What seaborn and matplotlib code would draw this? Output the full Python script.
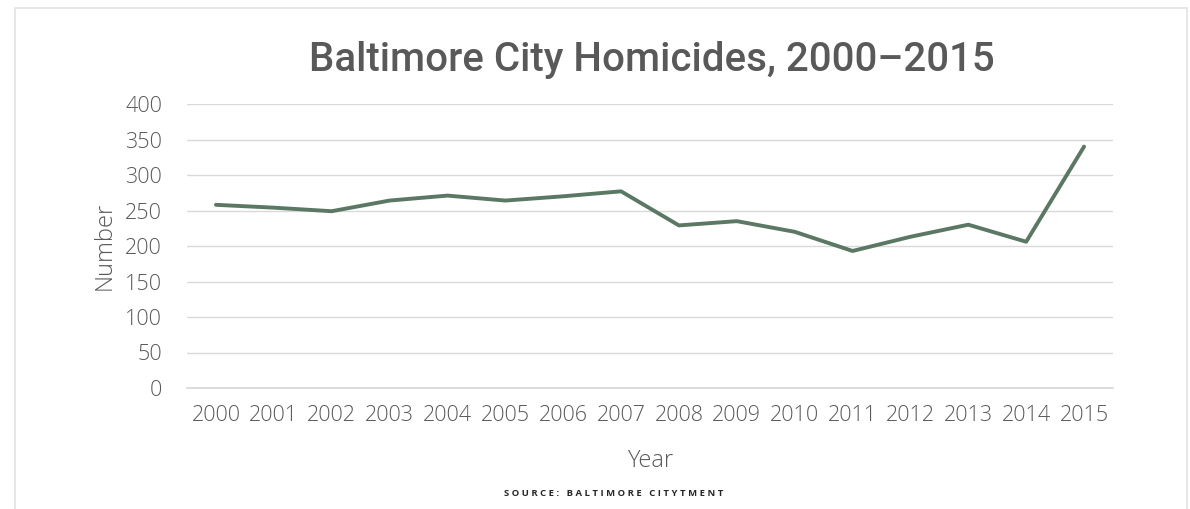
import matplotlib
matplotlib.use("Agg")
import matplotlib.pyplot as plt
import matplotlib.patches as mpatches
import pandas as pd
import seaborn as sns

years = [str(y) for y in range(2000, 2016)]
homicides = [258, 254, 249, 264, 271, 264, 270, 277, 229, 235, 220, 193, 213, 230, 206, 340]
y_ticks = [0, 50, 100, 150, 200, 250, 300, 350, 400]

LINE = "#5b7864"
TEXT = "#595959"
GRID = "#d9d9d9"

sns.set_theme(style="white")
plt.rcParams["font.family"] = ["Open Sans", "DejaVu Sans"]

df = pd.DataFrame({"Year": years, "Number": homicides})

fig = plt.figure(figsize=(11.9, 5.09), dpi=100)
fig.patches.append(mpatches.Rectangle((15 / 1190, -0.01), 1172 / 1190, 1 - 8 / 509 + 0.01,
                                      transform=fig.transFigure, fill=False,
                                      edgecolor="#e3e3e3", linewidth=1.2))
ax = fig.add_axes([187 / 1190, 1 - 388 / 509, 926 / 1190, 284 / 509])

sns.lineplot(data=df, x="Year", y="Number", color=LINE, linewidth=2.8, ax=ax, sort=False)

ax.set_xlim(-0.5, len(years) - 0.5)
ax.set_ylim(0, 400)
ax.set_yticks(y_ticks)
ax.yaxis.grid(True, color=GRID, linewidth=1)
ax.set_axisbelow(True)
for s in ["top", "right", "left"]:
    ax.spines[s].set_visible(False)
ax.spines["bottom"].set_color(GRID)
ax.tick_params(axis="both", length=0, labelsize=15.5, colors=TEXT)
for lbl in ax.get_xticklabels() + ax.get_yticklabels():
    lbl.set_fontweight("light")
ax.tick_params(axis="x", pad=12)
ax.tick_params(axis="y", pad=18)

ax.set_xlabel("Year", fontsize=17, color=TEXT, labelpad=17, fontweight="light")
ax.set_ylabel("Number", fontsize=17, color=TEXT, labelpad=6, fontweight="light")

fig.text(652 / 1190, 1 - 60 / 509, "Baltimore City Homicides, 2000\u20132015",
         ha="center", va="center", fontsize=29, color=TEXT, fontweight="medium",
         family=["Roboto", "DejaVu Sans"])
fig.text(614 / 1190, 1 - 493 / 509, "S O U R C E :   B A L T I M O R E   C I T Y T M E N T",
         ha="center", va="center", fontsize=6.8, color="#262626", fontweight="bold")

fig.savefig("out.png", dpi=100)
